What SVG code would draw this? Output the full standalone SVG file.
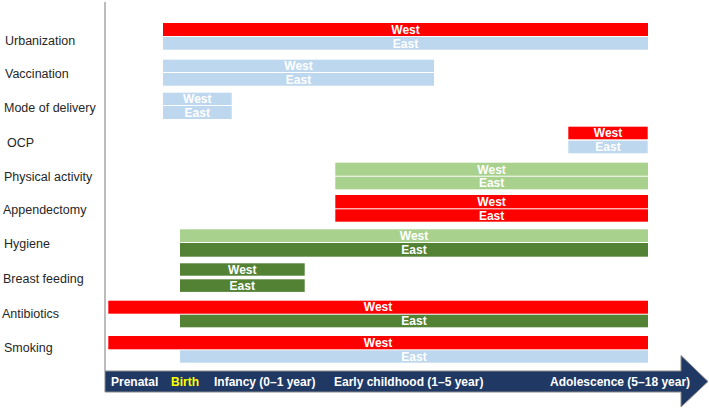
<svg xmlns="http://www.w3.org/2000/svg" width="709" height="410" viewBox="0 0 709 410">
<style>
.lbl{font-family:"Liberation Sans",Arial,sans-serif;font-size:12.5px;fill:#262626}
.bt{font-family:"Liberation Sans",Arial,sans-serif;font-size:12px;font-weight:bold;fill:#ffffff;text-anchor:middle}
.at{font-family:"Liberation Sans",Arial,sans-serif;font-size:12px;font-weight:bold;fill:#ffffff}
.red{fill:#ff0000}
.lb{fill:#bdd7ee}
.lg{fill:#a9d18e}
.dg{fill:#548235}
</style>
<rect width="709" height="410" fill="#ffffff"/>
<g id="axis">
<line x1="105" y1="2" x2="105" y2="371" stroke="#a6a6a6" stroke-width="1.5"/>
</g>
<g id="timeline">
<polygon points="105,371 681,371 681,355.5 708,381.5 681,407 681,392 105,392" fill="#203864" stroke="#8a8a8a" stroke-width="1"/>
<text class="at" x="111" y="386">Prenatal</text>
<text class="at" x="171" y="386" fill="#ffff00" style="fill:#ffff00">Birth</text>
<text class="at" x="214" y="386">Infancy (0–1 year)</text>
<text class="at" x="334" y="386">Early childhood (1–5 year)</text>
<text class="at" x="550" y="386">Adolescence (5–18 year)</text>
</g>
<g id="urbanization">
<text class="lbl" x="5" y="45">Urbanization</text>
<rect class="red" x="163" y="23" width="485" height="13"/>
<text class="bt" x="405.5" y="34">West</text>
<rect class="lb" x="163" y="37" width="485" height="12.7"/>
<text class="bt" x="405.5" y="47.5">East</text>
</g>
<g id="vaccination">
<text class="lbl" x="5" y="78">Vaccination</text>
<rect class="lb" x="163" y="59.7" width="271" height="12.3"/>
<text class="bt" x="298.5" y="70">West</text>
<rect class="lb" x="163" y="73" width="271" height="12.7"/>
<text class="bt" x="298.5" y="83.5">East</text>
</g>
<g id="mode-of-delivery">
<text class="lbl" x="4" y="112">Mode of delivery</text>
<rect class="lb" x="163" y="92.7" width="68.7" height="12.3"/>
<text class="bt" x="197.3" y="103">West</text>
<rect class="lb" x="163" y="106" width="68.7" height="13"/>
<text class="bt" x="197.3" y="116.5">East</text>
</g>
<g id="ocp">
<text class="lbl" x="7" y="146.5">OCP</text>
<rect class="red" x="568.3" y="126.7" width="79.4" height="12.6"/>
<text class="bt" x="608" y="137.3">West</text>
<rect class="lb" x="568.3" y="140.7" width="79.4" height="12.6"/>
<text class="bt" x="608" y="151.3">East</text>
</g>
<g id="physical-activity">
<text class="lbl" x="4" y="181">Physical activity</text>
<rect class="lg" x="335.3" y="162.7" width="312.7" height="13"/>
<text class="bt" x="491.6" y="173.5">West</text>
<rect class="lg" x="335.3" y="176.7" width="312.7" height="12.6"/>
<text class="bt" x="491.6" y="187.3">East</text>
</g>
<g id="appendectomy">
<text class="lbl" x="3" y="214">Appendectomy</text>
<rect class="red" x="335.3" y="195" width="312.7" height="13.3"/>
<text class="bt" x="491.6" y="206">West</text>
<rect class="red" x="335.3" y="209.3" width="312.7" height="12.4"/>
<text class="bt" x="491.6" y="219.8">East</text>
</g>
<g id="hygiene">
<text class="lbl" x="4" y="247.5">Hygiene</text>
<rect class="lg" x="180" y="229.3" width="468" height="12.7"/>
<text class="bt" x="414" y="240">West</text>
<rect class="dg" x="180" y="243" width="468" height="13.7"/>
<text class="bt" x="414" y="254">East</text>
</g>
<g id="breast-feeding">
<text class="lbl" x="3" y="282.5">Breast feeding</text>
<rect class="dg" x="180" y="263.3" width="124.7" height="12.4"/>
<text class="bt" x="242.3" y="273.7">West</text>
<rect class="dg" x="180" y="279.3" width="124.7" height="12.6"/>
<text class="bt" x="242.3" y="289.8">East</text>
</g>
<g id="antibiotics">
<text class="lbl" x="2" y="318">Antibiotics</text>
<rect class="red" x="108.3" y="300.7" width="539.7" height="13"/>
<text class="bt" x="378" y="311.4">West</text>
<rect class="dg" x="180" y="314.7" width="468" height="12.6"/>
<text class="bt" x="414" y="325.2">East</text>
</g>
<g id="smoking">
<text class="lbl" x="4" y="352">Smoking</text>
<rect class="red" x="108.3" y="336" width="539.7" height="13.3"/>
<text class="bt" x="378" y="346.8">West</text>
<rect class="lb" x="180" y="350.3" width="468" height="12.4"/>
<text class="bt" x="414" y="360.7">East</text>
</g>
<g id="connectors"></g>
</svg>
